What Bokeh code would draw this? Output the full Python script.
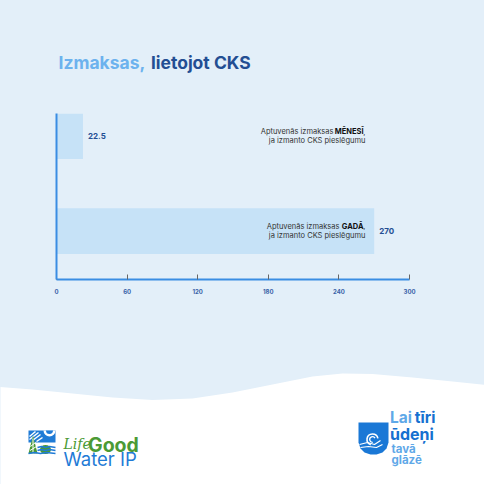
from bokeh.plotting import figure
from bokeh.layouts import column
from bokeh.models import Range1d, FixedTicker, ColumnDataSource
from bokeh.core.properties import value
from bokeh.embed import file_html
from bokeh.resources import INLINE

# ---------------- data ----------------
cat_prefix = ["Aptuvenās izmaksas", "Aptuvenās izmaksas"]
cat_bold = ["MĒNESĪ", "GADĀ"]
cat_line2 = ["ja izmanto CKS pieslēgumu", "ja izmanto CKS pieslēgumu"]
costs = [22.5, 270]
cost_labels = ["22.5", "270"]
x_ticks = [0, 60, 120, 180, 240, 300]

title_a = "Izmaksas,"
title_b = "lietojot CKS"

# ---------------- style ----------------
BG = "#e3eff9"
BAR = "#c6e2f7"
AXIS = "#3a8de3"
DARK = "#234e93"
LIGHT = "#6cb2ee"
GREEN = "#4b9a35"
BLUE = "#1f7bd6"
FONT = "Inter"
W = 484


def deco_fig(h, y0):
    """Decorative strip whose frame fills the whole canvas; 1 unit = 1 page pixel."""
    d = figure(width=W, height=h, output_backend="svg", toolbar_location=None,
               x_range=Range1d(8, 8 + W), y_range=Range1d(y0 + h, y0),
               x_axis_type=None, y_axis_type=None, min_border=0, frame_align=False)
    d.background_fill_color = None
    d.border_fill_color = BG
    d.outline_line_color = None
    d.xgrid.visible = False
    d.ygrid.visible = False
    return d


# ---------------- header (title) ----------------
hdr = deco_fig(92, 8)
hdr.text(x=[66], y=[69.5], text=[title_a], text_font=value(FONT), text_font_size="17.5px",
         text_font_style="bold", text_color=LIGHT, text_baseline="alphabetic")
hdr.text(x=[158.5], y=[69.5], text=[title_b], text_font=value(FONT), text_font_size="17.5px",
         text_font_style="bold", text_color=DARK, text_baseline="alphabetic")

# ---------------- chart ----------------
p = figure(width=W, height=270, output_backend="svg", toolbar_location=None,
           x_range=Range1d(0, 300), y_range=Range1d(2.51, 0.76),
           min_border_left=56, min_border_right=75, min_border_top=21,
           min_border_bottom=83, frame_align=False)
p.background_fill_color = None
p.border_fill_color = BG
p.outline_line_color = None
p.xgrid.visible = False
p.ygrid.visible = False

ypos = [i + 1 for i in range(len(costs))]
src = ColumnDataSource(dict(y=ypos, v=costs, lab=cost_labels))

p.hbar(y="y", left=0, right="v", height=0.48, source=src, fill_color=BAR, line_color=None)

p.text(x="v", y="y", text="lab", source=src, x_offset=5, text_baseline="middle",
       text_font=value(FONT), text_font_size="8px", text_font_style="bold", text_color=DARK)

ANCH = -44
bold_w = [28, 22]
for i in range(len(costs)):
    s = ColumnDataSource(dict(x=[p.x_range.end], y=[ypos[i]], c=[","], b=[cat_bold[i]],
                              pr=[cat_prefix[i]], l2=[cat_line2[i]]))
    common = dict(source=s, text_align="right", text_baseline="middle",
                  text_font=value(FONT), text_font_size="7.5px")
    p.text(x="x", y="y", text="c", x_offset=ANCH, y_offset=-4.7, text_color="#333333", **common)
    p.text(x="x", y="y", text="b", x_offset=ANCH - 2, y_offset=-4.7,
           text_font_style="bold", text_color="#111111", **common)
    p.text(x="x", y="y", text="pr", x_offset=ANCH - 4 - bold_w[i], y_offset=-4.7,
           text_color="#333333", **common)
    p.text(x="x", y="y", text="l2", x_offset=ANCH, y_offset=4.7, text_color="#333333", **common)

xa = p.xaxis[0]
xa.ticker = FixedTicker(ticks=x_ticks)
xa.axis_line_color = AXIS
xa.axis_line_width = 2
xa.major_tick_in = 5
xa.major_tick_out = 0
xa.major_tick_line_color = "#666666"
xa.minor_tick_line_color = None
xa.major_label_text_font = FONT
xa.major_label_text_font_size = "6px"
xa.major_label_text_font_style = "bold"
xa.major_label_text_color = "#3a63a8"
xa.major_label_standoff = 9

ya = p.yaxis[0]
ya.ticker = FixedTicker(ticks=[])
ya.axis_line_color = AXIS
ya.axis_line_width = 2
ya.major_tick_line_color = None
ya.minor_tick_line_color = None
ya.major_label_text_color = None

# ---------------- footer: wave + logos ----------------
f = deco_fig(122, 370)

wave_x = [0, 40, 80, 120, 160, 200, 240, 280, 320, 350, 380, 420, 460, 500, 500, 0]
wave_y = [394, 397, 401, 405, 407.5, 406, 400, 392, 384, 381, 381.5, 385, 389, 393, 500, 500]
f.patch(wave_x, wave_y, fill_color="white", line_color=None)

# left logo icon
f.quad(left=36, right=63, top=438, bottom=450, fill_color=BLUE, line_color=None)
f.multi_line([[37, 43], [37, 46], [40, 48], [44, 50]], [[444, 439], [447, 440], [448, 442], [449, 445]],
             line_color="white", line_width=1.5)
f.wedge(x=[57], y=[438], radius=6, start_angle=3.14, end_angle=6.28, fill_color="white",
        line_color=None, direction="anticlock")
f.wedge(x=[57], y=[438], radius=3.5, start_angle=3.14, end_angle=6.28, fill_color=BLUE,
        line_color=None, direction="anticlock")
f.patch([40.5, 36, 45], [443, 461, 461], fill_color=GREEN, line_color=None)
f.multi_line([[38, 43], [37.5, 44], [40.5, 40.5]], [[454, 450], [458, 454], [446, 461]],
             line_color="white", line_width=1)
f.ellipse(x=[53], y=[457], width=11, height=9, fill_color=GREEN, line_color=None)
f.multi_line([[45, 49, 53, 57, 63], [45, 49, 53, 57, 63], [36, 42, 48, 54, 63]],
             [[455, 454, 455, 454, 455], [458, 457, 458, 457, 458], [461, 460, 461, 460, 461]],
             line_color=BLUE, line_width=1.6)

f.text(x=[71], y=[451.5], text=["Life"], text_font=value("DejaVu Serif"), text_font_size="14px",
       text_font_style="italic", text_color=GREEN, text_baseline="alphabetic")
f.text(x=[95.5], y=[452], text=["Good"], text_font=value(FONT), text_font_size="19.5px",
       text_font_style="bold", text_color=GREEN, text_baseline="alphabetic")
f.text(x=[71], y=[466.5], text=["Water IP"], text_font=value(FONT), text_font_size="18.5px",
       text_color=BLUE, text_baseline="alphabetic")

# right logo
CUP = "#1a78d6"
f.patch([366, 396, 396, 394, 390, 384, 378, 372, 368, 366],
        [430, 430, 450, 456, 460, 462, 462, 460, 456, 450], fill_color=CUP, line_color=None)
f.arc(x=[380], y=[447], radius=[5.5], start_angle=0.2, end_angle=4.4, line_color="white",
      line_width=1.6)
f.arc(x=[380], y=[447], radius=[2.8], start_angle=0.5, end_angle=4.8, line_color="white",
      line_width=1.3)
f.multi_line([[367, 375, 382, 388], [368, 376, 384, 390]], [[452, 450, 452, 448], [455, 454, 455, 452]],
             line_color="white", line_width=1.2)

f.text(x=[397.5], y=[424.5], text=["Lai"], text_font=value(FONT), text_font_size="15.5px",
       text_font_style="bold", text_color="#5fa8e8", text_baseline="alphabetic")
f.text(x=[443], y=[424.5], text=["tīri"], text_font=value(FONT), text_font_size="15.5px",
       text_font_style="bold", text_color="#1670d0", text_baseline="alphabetic", text_align="right")
f.text(x=[397.5], y=[441], text=["ūdeņi"], text_font=value(FONT), text_font_size="16px",
       text_font_style="bold", text_color="#1670d0", text_baseline="alphabetic")
f.text(x=[399], y=[456.5], text=["tavā"], text_font=value(FONT), text_font_size="11.5px",
       text_font_style="bold", text_color="#5fa8e8", text_baseline="alphabetic")
f.text(x=[399], y=[467], text=["glāzē"], text_font=value(FONT), text_font_size="11.5px",
       text_font_style="bold", text_color="#5fa8e8", text_baseline="alphabetic")

layout = column(hdr, p, f, spacing=0, styles={"background-color": BG})
open("out.html", "w").write(file_html(layout, INLINE))
